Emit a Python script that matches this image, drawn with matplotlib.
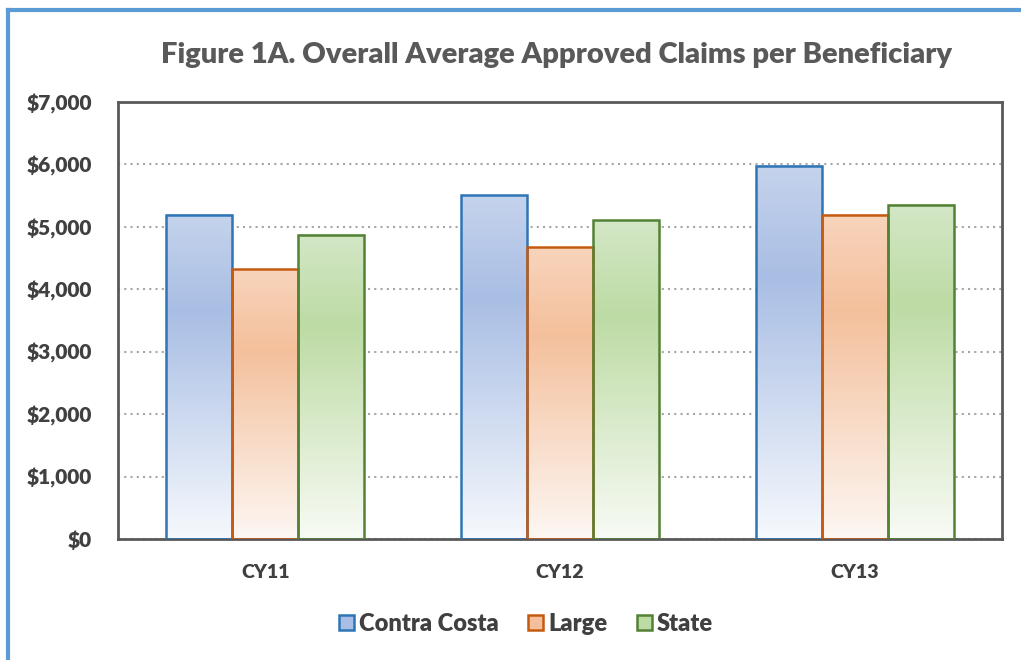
import matplotlib
matplotlib.use("Agg")
import matplotlib.pyplot as plt
import numpy as np
from matplotlib.colors import LinearSegmentedColormap
from matplotlib.patches import Rectangle
from matplotlib.lines import Line2D
from matplotlib.ticker import FuncFormatter

plt.rcParams["font.family"] = ["Lato", "DejaVu Sans"]

years = ["CY11", "CY12", "CY13"]
series = ["Contra Costa", "Large", "State"]
contra_costa = [5190, 5505, 5980]
large = [4320, 4670, 5190]
state = [4870, 5105, 5350]

edge_colors = ["#2e75b6", "#c55a11", "#538135"]
grad_stops = [
    ["#c5d3ec", "#a9bee4", "#f6f9fd"],
    ["#f8d4bc", "#f4c09c", "#fdf7f3"],
    ["#d3e7c6", "#bddba4", "#f8fbf5"],
]

fig = plt.figure(figsize=(10.21, 6.6), dpi=100)
ax = fig.add_axes([0.1156, 0.1833, 0.8658, 0.6622])

x = np.arange(len(years))
width = 0.224
values = [contra_costa, large, state]

for i, vals in enumerate(values):
    cmap = LinearSegmentedColormap.from_list(
        f"g{i}", [(0, grad_stops[i][0]), (0.3, grad_stops[i][1]), (1, grad_stops[i][2])])
    grad = np.linspace(0, 1, 256).reshape(-1, 1)
    for j, v in enumerate(vals):
        x0 = x[j] + (i - 1) * width - width / 2
        ax.imshow(grad, cmap=cmap, extent=(x0, x0 + width, 0, v), aspect="auto",
                  origin="upper", zorder=2, interpolation="bilinear")
        ax.add_patch(Rectangle((x0, 0), width, v, facecolor="none",
                               edgecolor=edge_colors[i], linewidth=1.8, zorder=3))

ax.set_xlim(-0.5, 2.5)
ax.set_ylim(0, 7000)
ax.set_yticks(np.arange(0, 7001, 1000))
ax.yaxis.set_major_formatter(FuncFormatter(lambda v, p: f"${v:,.0f}"))
ax.set_xticks(x)
ax.set_xticklabels(years)
ax.tick_params(axis="x", length=0, labelsize=14, labelcolor="#404040", pad=18)
ax.tick_params(axis="y", length=0, labelsize=15, labelcolor="#404040", pad=19)
for lab in ax.get_xticklabels() + ax.get_yticklabels():
    lab.set_fontweight("heavy")

ax.grid(axis="y", linestyle=(0, (1, 2)), color="#a6a6a6", linewidth=1.5, zorder=0)
ax.set_axisbelow(True)
for s in ax.spines.values():
    s.set_color("#595959")
    s.set_linewidth(2)

fig.text(0.545, 0.917, "Figure 1A. Overall Average Approved Claims per Beneficiary",
         ha="center", va="center", fontsize=21, fontweight="heavy", color="#595959")

handles = [Rectangle((0, 0), 1, 1, facecolor=grad_stops[i][1], edgecolor=edge_colors[i],
                     linewidth=1.8) for i in range(3)]
leg = fig.legend(handles, series, loc="center", bbox_to_anchor=(0.515, 0.055), ncol=3,
                 frameon=False, fontsize=17, handlelength=0.65, handleheight=0.65,
                 handletextpad=0.2, columnspacing=1.25)
for t in leg.get_texts():
    t.set_fontweight("heavy")
    t.set_color("#404040")

# blue outer frame (top and left edges)
fig.add_artist(Line2D([0.0078, 1.0], [0.985, 0.985], color="#5b9bd5", linewidth=3,
                      transform=fig.transFigure))
fig.add_artist(Line2D([0.0078, 0.0078], [0.0, 0.985], color="#5b9bd5", linewidth=3,
                      transform=fig.transFigure))

fig.savefig("out.png", dpi=100)
